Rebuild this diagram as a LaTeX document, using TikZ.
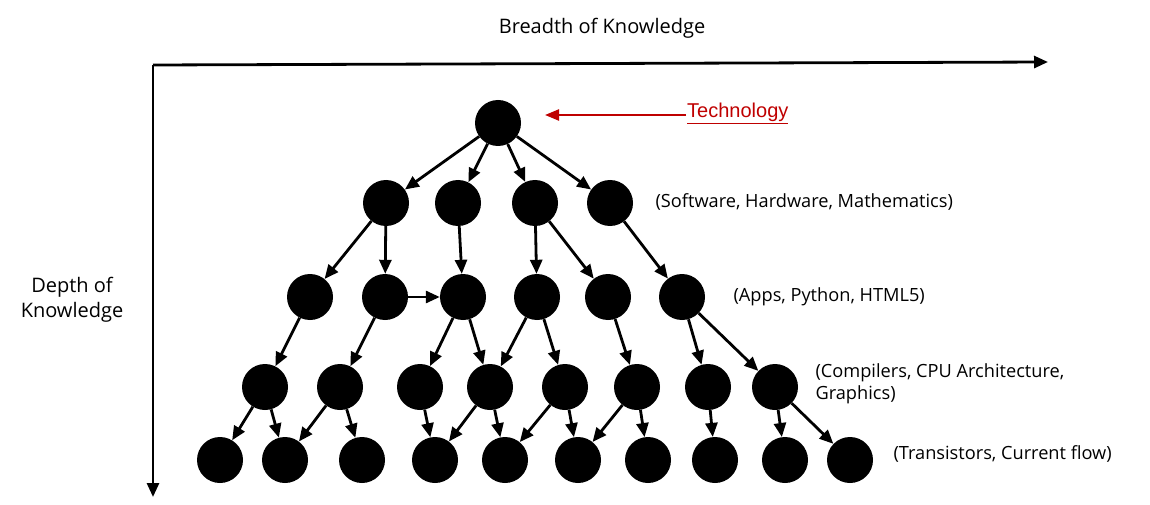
\documentclass[tikz,border=0pt]{standalone}
\usepackage{fontspec}
\setmainfont{Open Sans}
\newfontfamily\arialf{Liberation Sans}
\usetikzlibrary{arrows.meta}
\begin{document}
\begin{tikzpicture}[x=1pt,y=-1pt,
  dot/.style={circle,fill=black,minimum size=46pt,inner sep=0pt},
  arr/.style={-{Triangle[length=14pt,width=12pt]},line width=2.8pt},
  lab/.style={font=\fontsize{18.2}{22}\selectfont,anchor=west,align=left}]
\useasboundingbox (0,0) rectangle (1150,505);
\node[dot] (r) at (498,123) {};
\foreach \n/\x in {1/386,2/458,3/535,4/610} \node[dot] (a\n) at (\x,203) {};
\foreach \n/\x in {1/310,2/385,3/463,4/537,5/608,6/682} \node[dot] (b\n) at (\x,297) {};
\foreach \n/\x in {1/265,2/340,3/420,4/490,5/565,6/637,7/708,8/775} \node[dot] (c\n) at (\x,387) {};
\foreach \n/\x in {1/220,2/285,3/362,4/435,5/505,6/578,7/648,8/715,9/785,10/850} \node[dot] (d\n) at (\x,460) {};
\foreach \s/\t in {r/a1,r/a2,r/a3,r/a4,a1/b1,a1/b2,a2/b3,a3/b4,a3/b5,a4/b6,b2/b3,
  b1/c1,b2/c2,b3/c3,b3/c4,b4/c4,b4/c5,b5/c6,b6/c7,b6/c8,
  c1/d1,c1/d2,c2/d2,c2/d3,c3/d4,c4/d4,c4/d5,c5/d5,c5/d6,c6/d6,c6/d7,c7/d8,c8/d9,c8/d10}
  \draw[arr] (\s) -- (\t);
\coordinate (o) at (153,65);
\coordinate (xe) at (1048,62);
\coordinate (ye) at (153,497);
\draw[arr] (o) -- (xe);
\draw[arr] (o) -- (ye);
\node[font=\fontsize{20}{25}\selectfont] (bx) at (602,28) {Breadth of Knowledge};
\node[font=\fontsize{20}{25}\selectfont,align=center] (dy) at (72,300) {Depth of\\Knowledge};
\node[anchor=west,inner sep=1pt,text=red!75!black,font=\arialf\fontsize{20}{24}\selectfont] (tech) at (686,113) {\underline{Technology}};
\coordinate (tip) at (545,115);
\draw[-{Triangle[length=14pt,width=11pt]},line width=2.2pt,red!75!black] (tech.west |- tip) -- (tip);
\node[lab] (l1) at (652,202) {(Software, Hardware, Mathematics)};
\node[lab] (l2) at (730,297) {(Apps, Python, HTML5)};
\node[lab] (l3) at (812,384) {(Compilers, CPU Architecture,\\Graphics)};
\node[lab] (l4) at (890,454) {(Transistors, Current flow)};
\end{tikzpicture}
\end{document}
